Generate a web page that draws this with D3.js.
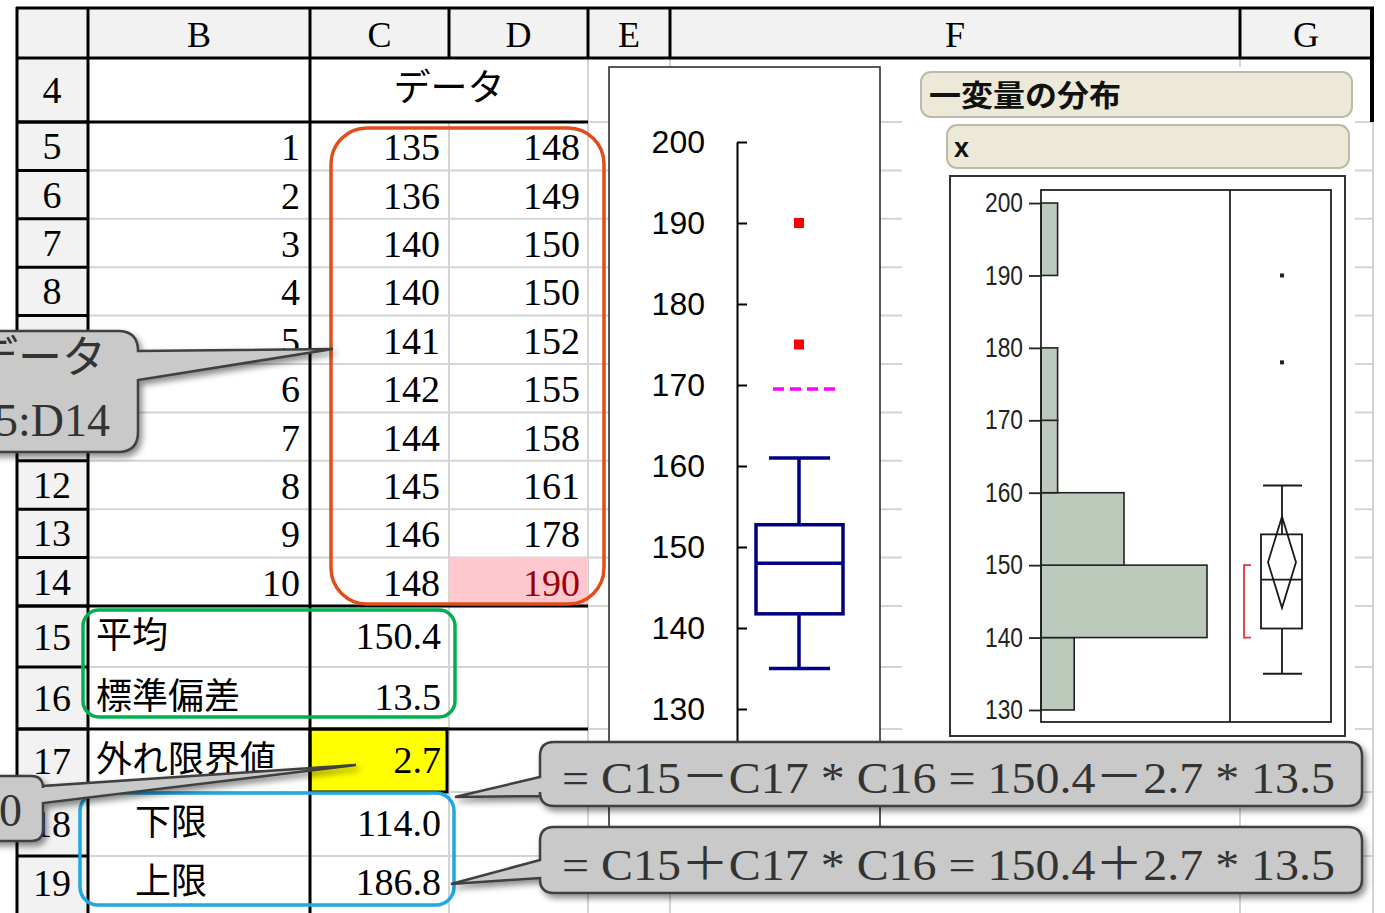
<!DOCTYPE html>
<html><head><meta charset="utf-8">
<script src="https://cdn.jsdelivr.net/npm/d3@7"></script>
<style>body{margin:0;background:#fff;overflow:hidden}svg{display:block}</style>
</head><body>
<svg id="c" width="1385" height="913"></svg>
<script>
// ---------------- data ----------------
const columnLetters = ["B","C","D","E","F","G"];
const rowNumbers = [4,5,6,7,8,9,10,11,12,13,14,15,16,17,18,19];
const dataTitle = "データ";
const indexNumbers = [1,2,3,4,5,6,7,8,9,10];
const dataC = [135,136,140,140,141,142,144,145,146,148];
const dataD = [148,149,150,150,152,155,158,161,178,190];
const statLabels = ["平均","標準偏差","外れ限界値","下限","上限"];
const statValues = ["150.4","13.5","2.7","114.0","186.8"];
const axisTicks = [130,140,150,160,170,180,190,200];
const boxFive = [135,141.75,148,152.75,161];      // lower whisker, Q1, median, Q3, upper whisker
const boxOutliers = [190,175];
const dashedLimit = [169.5];
const jmpTitle = "一変量の分布";
const jmpVar = "x";
const histBinStarts = [130,140,150,160,170,180,190];
const histCounts = [2,10,5,1,1,0,1];
const jmpBoxFive = [135,141.25,148,154.25,161];
const jmpOutliers = [178,190];
const meanDiamond = [144.1,150.4,156.7];
const shortestHalf = [140,150];
const calloutRangeText = ["データ","C5:D14"];
const calloutFormulas = ["= C15－C17 * C16 = 150.4－2.7 * 13.5","= C15＋C17 * C16 = 150.4＋2.7 * 13.5"];
const calloutOutlierText = ["3.0"];

// ---------------- layout ----------------
const svg = d3.select("#c");
const SERIF = "'Liberation Serif','Noto Sans CJK JP',serif";
const SANS = "'Liberation Sans',Arial,sans-serif";
const JP = "'Noto Sans CJK JP',sans-serif";
const col = {A:17,B:88,C:310,D:449,E:588,F:670,G:1240,H:1372};
const colBounds = [[col.B,col.C],[col.C,col.D],[col.D,col.E],[col.E,col.F],[col.F,col.G],[col.G,col.H]];
const yRow = d3.scaleLinear().domain([5,15]).range([122,606]);
const extraEdges = {4:58,16:667,17:729,18:792,19:856,20:910};
const rowEdge = r => (r>=5 && r<=15) ? yRow(r) : extraEdges[r];
const rowCenter = r => (rowEdge(r)+rowEdge(r+1))/2;
const calloutBox = {x0:-40,y0:331,x1:138,y1:452};

const defs = svg.append("defs");
const f = defs.append("filter").attr("id","sh").attr("x","-10%").attr("y","-20%").attr("width","130%").attr("height","160%");
f.append("feDropShadow").attr("dx",3).attr("dy",4).attr("stdDeviation",3).attr("flood-color","#000").attr("flood-opacity",0.45);

svg.append("rect").attr("width",1385).attr("height",913).attr("fill","#fff");
svg.append("rect").attr("x",col.A).attr("y",8).attr("width",col.H-col.A).attr("height",50).attr("fill","#F2F2F2");
svg.append("rect").attr("x",col.A).attr("y",58).attr("width",col.B-col.A).attr("height",860).attr("fill","#F2F2F2");

// gray grid
const grid = svg.append("g").attr("stroke","#D4D4D4").attr("stroke-width",2);
rowNumbers.forEach(r=>{
  if (r===4) return;
  grid.append("line").attr("x1",col.B).attr("x2",col.H+2).attr("y1",rowEdge(r)).attr("y2",rowEdge(r));
});
[[col.D,122],[col.E,58],[col.F,58],[col.G,58],[col.H+1,122]].forEach(([x,y0])=>{
  grid.append("line").attr("x1",x).attr("x2",x).attr("y1",y0).attr("y2",913);
});

// special cells
svg.append("rect").attr("x",col.D).attr("y",rowEdge(14)).attr("width",col.E-col.D).attr("height",rowEdge(15)-rowEdge(14)).attr("fill","#FFC7CE");
svg.append("rect").attr("x",col.C).attr("y",rowEdge(17)).attr("width",137).attr("height",rowEdge(18)-rowEdge(17)).attr("fill","#FFFF00");

// black lines
const blk = svg.append("g").attr("stroke","#000").attr("stroke-width",3);
[col.A,col.B,col.C].forEach(x=>blk.append("line").attr("x1",x).attr("x2",x).attr("y1",7).attr("y2",913));
[col.D,col.E,col.F,col.G].forEach(x=>blk.append("line").attr("x1",x).attr("x2",x).attr("y1",7).attr("y2",58));
blk.append("line").attr("x1",col.H).attr("x2",col.H).attr("y1",7).attr("y2",122).attr("stroke-width",4);
blk.append("line").attr("x1",col.A-1).attr("x2",col.H+2).attr("y1",8).attr("y2",8);
blk.append("line").attr("x1",col.A).attr("x2",col.H+2).attr("y1",58).attr("y2",58);
rowNumbers.filter(r=>r<19).forEach(r=>blk.append("line").attr("x1",col.A).attr("x2",col.B).attr("y1",rowEdge(r+1)).attr("y2",rowEdge(r+1)));
[5,15,17].forEach(r=>blk.append("line").attr("x1",col.A).attr("x2",col.E).attr("y1",rowEdge(r)).attr("y2",rowEdge(r)));
blk.append("rect").attr("x",col.C).attr("y",rowEdge(17)).attr("width",137).attr("height",rowEdge(18)-rowEdge(17)).attr("fill","none");

// annotation rounded rects
svg.append("rect").attr("x",331).attr("y",128).attr("width",273).attr("height",476).attr("rx",36)
  .attr("fill","none").attr("stroke","#E04E1B").attr("stroke-width",3.5);
svg.append("rect").attr("x",83).attr("y",610).attr("width",372).attr("height",107).attr("rx",16)
  .attr("fill","none").attr("stroke","#00B050").attr("stroke-width",3.5);
svg.append("rect").attr("x",80).attr("y",793).attr("width",374).attr("height",112).attr("rx",18)
  .attr("fill","none").attr("stroke","#1FA7E6").attr("stroke-width",3.5);

// header letters
svg.append("g").selectAll("text").data(columnLetters).join("text")
  .attr("x",(d,i)=>(colBounds[i][0]+colBounds[i][1])/2).attr("y",47)
  .attr("text-anchor","middle").attr("font-family",SERIF).attr("font-size",36).attr("fill","#000").text(d=>d);
// row numbers (those fully hidden under the left callout are not drawn)
svg.append("g").selectAll("text")
  .data(rowNumbers.filter(r=>!(rowCenter(r)>calloutBox.y0 && rowCenter(r)<calloutBox.y1)))
  .join("text")
  .attr("x",52).attr("y",d=>rowCenter(d)+13).attr("text-anchor","middle")
  .attr("font-family",SERIF).attr("font-size",38).attr("fill","#000").text(d=>d);
svg.append("text").attr("x",col.D).attr("y",rowCenter(4)+11).attr("text-anchor","middle")
  .attr("font-family",JP).attr("font-size",37).attr("fill","#000").text(dataTitle);
const tbl = svg.append("g").attr("font-family",SERIF).attr("font-size",38).attr("text-anchor","end");
tbl.selectAll(".ix").data(indexNumbers).join("text").attr("x",300).attr("y",(d,i)=>rowCenter(5+i)+14).text(d=>d);
tbl.selectAll(".c").data(dataC).join("text").attr("class","c").attr("x",440).attr("y",(d,i)=>rowCenter(5+i)+14).text(d=>d);
tbl.selectAll(".d").data(dataD).join("text").attr("class","d").attr("x",580).attr("y",(d,i)=>rowCenter(5+i)+14)
  .attr("fill",(d,i)=>i===dataD.length-1?"#9C0006":"#000").text(d=>d);
svg.append("g").selectAll("text").data(statLabels).join("text")
  .attr("x",(d,i)=>i>=3?135:96).attr("y",(d,i)=>rowCenter(15+i)+11)
  .attr("font-family",JP).attr("font-size",36).attr("fill","#000").text(d=>d);
svg.append("g").selectAll("text").data(statValues).join("text")
  .attr("x",441).attr("y",(d,i)=>rowCenter(15+i)+12).attr("text-anchor","end")
  .attr("font-family",SERIF).attr("font-size",38).attr("fill","#000").text(d=>d);

// ---------------- box plot chart (column E) ----------------
const gE = svg.append("g");
gE.append("rect").attr("x",609).attr("y",67).attr("width",271).attr("height",773).attr("fill","#fff").attr("stroke","#222").attr("stroke-width",1.5);
const yE = d3.scaleLinear().domain([120,200]).range([790,142]);
gE.append("g").attr("transform","translate(737,0)")
  .call(d3.axisLeft(yE).tickValues(axisTicks).tickSizeInner(-10).tickSizeOuter(0).tickPadding(32).tickFormat(d3.format("d")))
  .call(g=>g.selectAll("text").attr("font-family",SANS).attr("font-size",32).attr("fill","#000"))
  .call(g=>g.selectAll("line,path").attr("stroke","#000").attr("stroke-width",2));
const cxE = 799;
const [eLo,eQ1,eMed,eQ3,eHi] = boxFive;
const bx = gE.append("g").attr("stroke","#000080").attr("stroke-width",3.5).attr("fill","none");
bx.append("line").attr("x1",cxE).attr("x2",cxE).attr("y1",yE(eHi)).attr("y2",yE(eQ3));
bx.append("line").attr("x1",cxE).attr("x2",cxE).attr("y1",yE(eQ1)).attr("y2",yE(eLo));
[eHi,eLo].forEach(v=>bx.append("line").attr("x1",cxE-30).attr("x2",cxE+31).attr("y1",yE(v)).attr("y2",yE(v)));
bx.append("rect").attr("x",cxE-43).attr("y",yE(eQ3)).attr("width",87).attr("height",yE(eQ1)-yE(eQ3));
bx.append("line").attr("x1",cxE-43).attr("x2",cxE+44).attr("y1",yE(eMed)).attr("y2",yE(eMed));
gE.selectAll(".out").data(boxOutliers).join("rect").attr("x",cxE-5).attr("y",d=>yE(d)-5).attr("width",10).attr("height",10).attr("fill","#FF0000");
gE.selectAll(".lim").data(dashedLimit).join("line").attr("x1",773).attr("x2",837).attr("y1",d=>yE(d)).attr("y2",d=>yE(d))
  .attr("stroke","#FF00FF").attr("stroke-width",3.5).attr("stroke-dasharray","11,6");

// ---------------- JMP distribution (column F) ----------------
const gJ = svg.append("g");
gJ.append("rect").attr("x",902).attr("y",67).attr("width",453).attr("height",675).attr("fill","#fff");
gJ.append("rect").attr("x",921).attr("y",72).attr("width",431).attr("height",45).attr("rx",10)
  .attr("fill","#ECE9D8").attr("stroke","#BDB9A6").attr("stroke-width",2);
gJ.append("text").attr("x",929).attr("y",106).attr("font-family",JP).attr("font-weight",700).attr("font-size",30)
  .attr("textLength",192).attr("lengthAdjust","spacingAndGlyphs").attr("fill","#111").text(jmpTitle);
gJ.append("rect").attr("x",947).attr("y",125).attr("width",402).attr("height",43).attr("rx",10)
  .attr("fill","#ECE9D8").attr("stroke","#BDB9A6").attr("stroke-width",2);
gJ.append("text").attr("x",954).attr("y",157).attr("font-family",SANS).attr("font-weight",700).attr("font-size",27).attr("fill","#111").text(jmpVar);
gJ.append("rect").attr("x",950).attr("y",176).attr("width",395).attr("height",560).attr("fill","#fff").attr("stroke","#333").attr("stroke-width",2);

const yJ = d3.scaleLinear().domain([128.34,201.8]).range([722,190]);
const xJ = d3.scaleLinear().domain([0,10]).range([1041,1207]);
gJ.selectAll(".bar").data(histBinStarts.map((b,i)=>({b,c:histCounts[i]})).filter(d=>d.c>0)).join("rect")
  .attr("x",xJ(0)).attr("y",d=>yJ(d.b+10)).attr("width",d=>xJ(d.c)-xJ(0)).attr("height",d=>yJ(d.b)-yJ(d.b+10))
  .attr("fill","#BCCABC").attr("stroke","#222").attr("stroke-width",1.6);
gJ.append("rect").attr("x",1041).attr("y",190).attr("width",290).attr("height",532).attr("fill","none").attr("stroke","#222").attr("stroke-width",1.8);
gJ.append("line").attr("x1",1230).attr("x2",1230).attr("y1",190).attr("y2",722).attr("stroke","#222").attr("stroke-width",1.8);
gJ.append("g").attr("transform","translate(1042,0)")
  .call(d3.axisLeft(yJ).tickValues(axisTicks).tickSizeInner(13).tickSizeOuter(0).tickPadding(6).tickFormat(d3.format("d")))
  .call(g=>g.select(".domain").remove())
  .call(g=>g.selectAll("line").attr("stroke","#222").attr("stroke-width",1.8))
  .call(g=>g.selectAll("text").attr("font-family",SANS).attr("font-size",27).attr("fill","#222")
     .attr("textLength",38).attr("lengthAdjust","spacingAndGlyphs"));

const cxJ = 1282;
const [jLo,jQ1,jMed,jQ3,jHi] = jmpBoxFive;
const jb = gJ.append("g").attr("stroke","#1a1a1a").attr("stroke-width",1.8).attr("fill","none");
jb.append("line").attr("x1",cxJ).attr("x2",cxJ).attr("y1",yJ(jHi)).attr("y2",yJ(jQ3));
jb.append("line").attr("x1",cxJ).attr("x2",cxJ).attr("y1",yJ(jQ1)).attr("y2",yJ(jLo));
[jHi,jLo].forEach(v=>jb.append("line").attr("x1",cxJ-19).attr("x2",cxJ+20).attr("y1",yJ(v)).attr("y2",yJ(v)));
jb.append("rect").attr("x",cxJ-21).attr("y",yJ(jQ3)).attr("width",41).attr("height",yJ(jQ1)-yJ(jQ3));
jb.append("line").attr("x1",cxJ-21).attr("x2",cxJ+20).attr("y1",yJ(jMed)).attr("y2",yJ(jMed));
const [dLo,dMid,dHi] = meanDiamond;
jb.append("path").attr("d",`M${cxJ},${yJ(dHi)}L${cxJ+14},${yJ(dMid)}L${cxJ},${yJ(dLo)}L${cxJ-14},${yJ(dMid)}Z`);
gJ.append("path").attr("d",`M1251,${yJ(shortestHalf[1])}H1244V${yJ(shortestHalf[0])}H1251`)
  .attr("fill","none").attr("stroke","#E8303A").attr("stroke-width",1.8);
gJ.selectAll(".jo").data(jmpOutliers).join("rect").attr("x",cxJ-2).attr("y",d=>yJ(d)-2).attr("width",4).attr("height",4).attr("fill","#222");

// ---------------- callouts ----------------
function ptrLeft(x0,y0,x1,y1,r,ya,yb,tx,ty){
  return `M${x0+r},${y0}H${x1-r}Q${x1},${y0} ${x1},${y0+r}V${y1-r}Q${x1},${y1} ${x1-r},${y1}H${x0+r}Q${x0},${y1} ${x0},${y1-r}V${yb}L${tx},${ty}L${x0},${ya}V${y0+r}Q${x0},${y0} ${x0+r},${y0}Z`;
}
function ptrRight(x0,y0,x1,y1,r,ya,yb,tx,ty){
  return `M${x0+r},${y0}H${x1-r}Q${x1},${y0} ${x1},${y0+r}V${ya}L${tx},${ty}L${x1},${yb}V${y1-r}Q${x1},${y1} ${x1-r},${y1}H${x0+r}Q${x0},${y1} ${x0},${y1-r}V${y0+r}Q${x0},${y0} ${x0+r},${y0}Z`;
}
const co = svg.append("g");
const coStyle = s => s.attr("fill","#C9C9C9").attr("stroke","#3F3F3F").attr("stroke-width",2.5).attr("filter","url(#sh)");
const cb = calloutBox;
co.append("path").attr("d",ptrRight(cb.x0,cb.y0,cb.x1,cb.y1,20,351,380,333,349)).call(coStyle);
co.append("text").attr("x",106).attr("y",373).attr("text-anchor","end").attr("font-family",JP).attr("font-size",44).attr("fill","#333").text(calloutRangeText[0]);
co.append("text").attr("x",110).attr("y",436).attr("text-anchor","end").attr("font-family",SERIF).attr("font-size",46).attr("fill","#333").text(calloutRangeText[1]);
co.append("path").attr("d",ptrRight(-40,776,43,841,12,786,803,356,765)).call(coStyle);
co.append("text").attr("x",22).attr("y",826).attr("text-anchor","end").attr("font-family",SERIF).attr("font-size",46).attr("fill","#333").text(calloutOutlierText[0]);
const boxes = [[742,806,777,796,455,797],[827,893,860,878,451,884]];
boxes.forEach(([y0,y1,ya,yb,tx,ty],i)=>{
  co.append("path").attr("d",ptrLeft(540,y0,1362,y1,14,ya,yb,tx,ty)).call(coStyle);
  co.append("text").attr("x",562).attr("y",y1-13).attr("font-family",SERIF).attr("font-size",45).attr("fill","#333")
    .attr("textLength",773).attr("lengthAdjust","spacingAndGlyphs").text(calloutFormulas[i]);
});
</script>
</body></html>
